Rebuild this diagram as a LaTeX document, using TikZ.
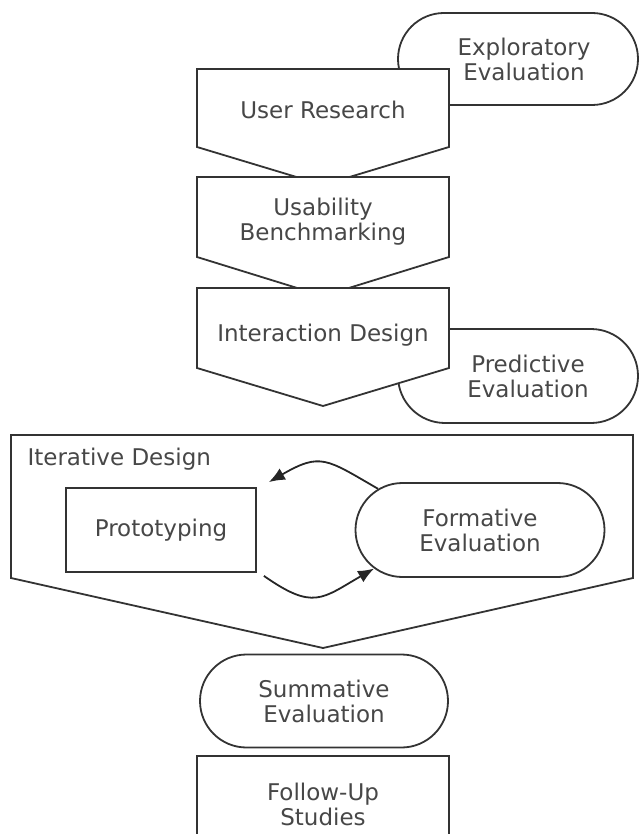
\documentclass[tikz,border=0pt]{standalone}
\usepackage{fontspec}
\setmainfont{DejaVu Sans}
\usetikzlibrary{shapes.misc, arrows.meta}

\begin{document}
\begin{tikzpicture}[x=0.5pt, y=0.5pt, line width=0.9pt,
    every node/.style={font=\fontsize{11.5}{12.5}\selectfont, text=black!72, align=center},
    evalbox/.style={rounded rectangle, draw=black!80, fill=white, inner sep=0pt},
    stagebox/.style={draw=black!80, fill=white, line join=miter},
    loop/.style={draw=black!85, -{Latex[length=8pt, width=6.5pt]}, looseness=1.4}]
    \useasboundingbox (0,0) rectangle (639,-834);

    % Draw evaluation boxes (behind the stages)
    \node[evalbox, minimum width=120pt, minimum height=46pt] (explore) at (518,-59) {\hspace*{6pt}Exploratory\\\hspace*{6pt}Evaluation};
    \node[evalbox, minimum width=120pt, minimum height=47pt] (predict) at (518,-376) {\hspace*{10pt}Predictive\\\hspace*{10pt}Evaluation};

    % Draw stages
    \draw[stagebox] (197,-69) -- (449,-69) -- (449,-147) -- (323,-185) -- (197,-147) -- cycle;
    \node (research) at (323,-110) {User Research};
    \draw[stagebox] (197,-177) -- (449,-177) -- (449,-257) -- (323,-296) -- (197,-257) -- cycle;
    \node (bench) at (323,-222) {Usability\\Benchmarking};
    \draw[stagebox] (197,-288) -- (449,-288) -- (449,-368) -- (323,-406) -- (197,-368) -- cycle;
    \node (interact) at (323,-335) {Interaction Design};

    % Iterative design
    \draw[stagebox, fill=none] (11,-435) -- (633,-435) -- (633,-578) -- (323,-648) -- (11,-578) -- cycle;
    \node[anchor=west] (iter) at (20,-459) {Iterative Design};
    \node[draw=black!80, minimum width=95pt, minimum height=42pt] (proto) at (161,-530) {Prototyping};
    \node[evalbox, minimum width=124.5pt, minimum height=47pt] (form) at (480,-530) {Formative\\Evaluation};

    % Draw connections
    \draw[loop] (form.158) to[out=150, in=30] ([xshift=6pt, yshift=2.5pt]proto.north east);
    \draw[loop] ([xshift=3.5pt, yshift=-1.5pt]proto.south east) to[out=-35, in=-150] (form.200);

    % Last stages
    \node[evalbox, minimum width=124pt, minimum height=46.5pt] (summ) at (324,-701) {Summative\\Evaluation};
    \node[draw=black!80, minimum width=126pt, minimum height=48pt] (follow) at (323,-804) {Follow-Up\\Studies};
\end{tikzpicture}
\end{document}
